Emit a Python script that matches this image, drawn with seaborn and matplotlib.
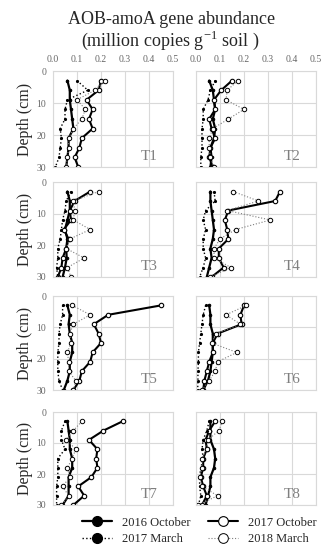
import pandas as pd
import matplotlib.pyplot as plt
import seaborn as sns
from matplotlib.lines import Line2D

# depth of each sample (cm)
depth = [3, 6, 9, 12, 15, 18, 21, 24, 27, 30]
panels = ["T1", "T2", "T3", "T4", "T5", "T6", "T7", "T8"]
series = ["2016 October", "2017 October", "2017 March", "2018 March"]

# million copies per g soil
oct16 = {
    "T1": [0.06, 0.07, 0.07, 0.075, 0.08, 0.085, 0.065, 0.065, 0.06, 0.055],
    "T2": [0.055, 0.07, 0.075, 0.08, 0.07, 0.08, 0.075, 0.06, 0.065, 0.06],
    "T3": [0.06, 0.07, 0.07, 0.06, 0.05, 0.06, 0.055, 0.057, 0.05, 0.04],
    "T4": [0.06, 0.06, 0.065, 0.07, 0.075, 0.07, 0.06, 0.065, 0.055, 0.045],
    "T5": [0.06, 0.07, 0.065, 0.07, 0.08, 0.08, 0.07, 0.07, 0.06, 0.045],
    "T6": [0.055, 0.06, 0.06, 0.07, 0.07, 0.07, 0.065, 0.06, 0.05, 0.03],
    "T7": [0.06, 0.065, 0.07, 0.07, 0.08, 0.08, 0.065, 0.065, 0.065, 0.04],
    "T8": [0.06, 0.06, 0.06, 0.075, 0.08, 0.075, 0.06, 0.06, 0.05, 0.04],
}
oct17 = {
    "T1": [0.2, 0.19, 0.14, 0.165, 0.15, 0.165, 0.12, 0.11, 0.09, 0.105],
    "T2": [0.15, 0.105, 0.075, 0.08, 0.055, 0.065, 0.08, 0.06, 0.055, 0.07],
    "T3": [0.155, 0.09, 0.07, 0.075, 0.045, 0.065, 0.055, 0.04, 0.035, 0.02],
    "T4": [0.35, 0.33, 0.135, 0.12, 0.13, 0.135, 0.095, 0.095, 0.115, 0.065],
    "T5": [0.45, 0.23, 0.17, 0.19, 0.2, 0.165, 0.155, 0.12, 0.11, 0.085],
    "T6": [0.2, 0.185, 0.19, 0.09, 0.07, 0.07, 0.055, 0.045, 0.035, 0.03],
    "T7": [0.29, 0.21, 0.15, 0.185, 0.18, 0.185, 0.16, 0.105, 0.13, 0.085],
    "T8": [0.08, 0.055, 0.04, 0.045, 0.03, 0.03, 0.02, 0.03, 0.045, 0.025],
}
mar17 = {
    "T1": [0.1, 0.145, 0.06, 0.05, 0.05, 0.03, 0.035, 0.03, 0.025, 0.01],
    "T2": [0.08, 0.06, 0.05, 0.03, 0.03, 0.025, 0.025, 0.025, 0.02, 0.02],
    "T3": [0.075, 0.055, 0.05, 0.04, 0.035, 0.03, 0.02, 0.02, 0.015, 0.02],
    "T4": [0.075, 0.08, 0.04, 0.03, 0.04, 0.03, 0.03, 0.04, 0.03, 0.015],
    "T5": [0.04, 0.04, 0.03, 0.025, 0.025, 0.02, 0.02, 0.02, 0.025, 0.04],
    "T6": [0.04, 0.03, 0.025, 0.02, 0.015, 0.01, 0.01, 0.008, 0.008, 0.007],
    "T7": [0.05, 0.035, 0.035, 0.05, 0.02, 0.02, 0.02, 0.015, 0.015, 0.015],
    "T8": [0.055, 0.045, 0.03, 0.025, 0.03, 0.02, 0.015, 0.015, 0.02, 0.01],
}
mar18 = {
    "T1": [0.215, 0.175, 0.1, 0.135, 0.12, 0.085, 0.065, 0.065, 0.06, 0.055],
    "T2": [0.175, 0.13, 0.125, 0.2, 0.135, 0.07, 0.055, 0.055, 0.06, 0.075],
    "T3": [0.19, 0.085, 0.09, 0.085, 0.155, 0.07, 0.055, 0.13, 0.06, 0.075],
    "T4": [0.155, 0.26, 0.13, 0.31, 0.165, 0.1, 0.075, 0.075, 0.145, 0.06],
    "T5": [0.08, 0.155, 0.085, 0.07, 0.075, 0.06, 0.065, 0.065, 0.095, 0.085],
    "T6": [0.21, 0.125, 0.185, 0.085, 0.065, 0.17, 0.09, 0.08, 0.055, 0.025],
    "T7": [0.12, 0.085, 0.055, 0.095, 0.08, 0.06, 0.07, 0.04, 0.065, 0.035],
    "T8": [0.11, 0.095, 0.05, 0.045, 0.025, 0.025, 0.015, 0.025, 0.09, 0.01],
}

rows = []
for name, d in zip(series, [oct16, oct17, mar17, mar18]):
    for p in panels:
        for z, v in zip(depth, d[p]):
            rows.append({"Series": name, "Panel": p, "Depth": z, "Value": v})
df = pd.DataFrame(rows)

sns.set_style("white")
plt.rcParams["font.family"] = ["Liberation Serif", "DejaVu Serif"]
plt.rcParams["mathtext.fontset"] = "custom"
plt.rcParams["mathtext.rm"] = "Liberation Serif"

styles = {
    "2016 October": dict(color="black", lw=1.6, ls="-", marker="o", ms=1.8, mfc="black", mec="black"),
    "2017 October": dict(color="black", lw=1.5, ls="-", marker="o", ms=3.2, mfc="white", mec="black", mew=0.8),
    "2017 March": dict(color="black", lw=1.0, ls=":", marker="o", ms=1.5, mfc="black", mec="black"),
    "2018 March": dict(color="#7f7f7f", lw=0.8, ls=":", marker="o", ms=3.2, mfc="white", mec="black", mew=0.7),
}

W, H = 327, 550
fig = plt.figure(figsize=(W / 100, H / 100), dpi=100)

col_x = [53, 196]
row_y = [(71, 167), (182, 277), (296, 390), (412, 505)]
grey = "#d9d9d9"

for i, p in enumerate(panels):
    r, c = divmod(i, 2)
    top, bot = row_y[r]
    ax = fig.add_axes([col_x[c] / W, 1 - bot / H, 120 / W, (bot - top) / H])
    sub = df[df["Panel"] == p]
    for s in series:
        sns.lineplot(data=sub[sub["Series"] == s], x="Value", y="Depth", orient="y",
                     sort=False, estimator=None, ax=ax, **styles[s])
    ax.set_xlim(0, 0.5)
    ax.set_ylim(30, 0)
    ax.set_xticks([0, 0.1, 0.2, 0.3, 0.4, 0.5])
    ax.set_yticks([0, 10, 20, 30])
    ax.xaxis.tick_top()
    ax.grid(True, color=grey, lw=0.8)
    for sp in ax.spines.values():
        sp.set_color(grey)
        sp.set_linewidth(0.8)
    ax.tick_params(length=0, labelsize=7, labelcolor="#666666", pad=5)
    ax.set_xticklabels(["0.0", "0.1", "0.2", "0.3", "0.4", "0.5"])
    if r != 0:
        ax.tick_params(labeltop=False)
    ax.set_xlabel("")
    if c == 0:
        ax.set_ylabel("Depth (cm)", fontsize=11.5)
        ax.yaxis.set_label_coords(-0.17, 0.5)
    else:
        ax.set_ylabel("")
        ax.tick_params(labelleft=False)
    ax.text(0.87, 0.04, p, transform=ax.transAxes, ha="right", va="bottom",
            fontsize=11, color="#7f7f7f")

fig.text(172 / W, 1 - 19 / H, "AOB-amoA gene abundance", ha="center", va="center", fontsize=13)
fig.text(170 / W, 1 - 40 / H, "(million copies g$^{-1}$ soil )", ha="center", va="center", fontsize=13)

order = ["2016 October", "2017 March", "2017 October", "2018 March"]
handles = []
for s in order:
    st = dict(styles[s])
    st["ms"] = 7
    handles.append(Line2D([], [], **st))
fig.legend(handles, order, loc="center", bbox_to_anchor=(199 / W, 1 - 531 / H), ncol=2,
           frameon=False, fontsize=9, handlelength=2.4, handletextpad=0.8,
           columnspacing=1.4, labelspacing=0.35)

fig.savefig("out.png", dpi=100)
